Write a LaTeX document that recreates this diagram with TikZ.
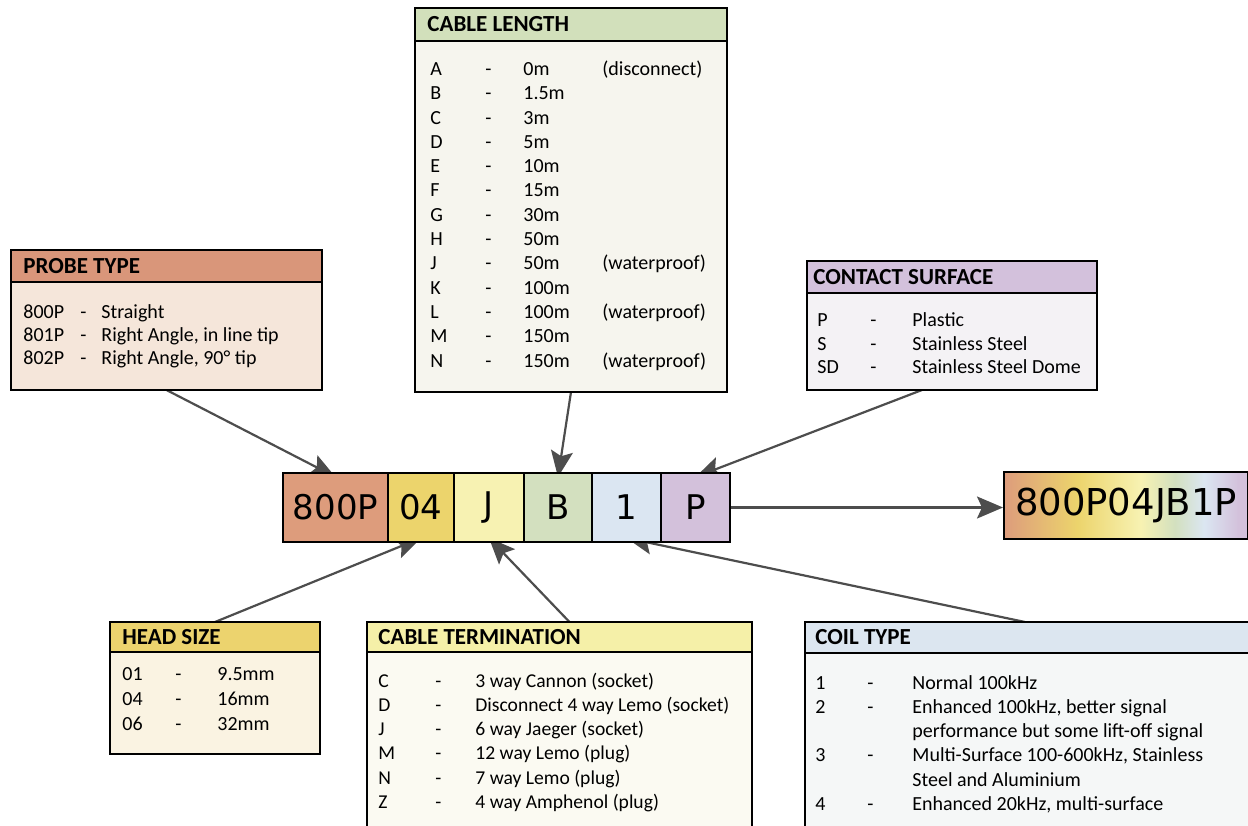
\documentclass[tikz,border=0pt]{standalone}
\usepackage{fontspec}
\setmainfont{Carlito}
\newfontfamily\codefont{DejaVu Sans}
\usetikzlibrary{positioning,arrows.meta,backgrounds}

\definecolor{probehead}{HTML}{D9967A}
\definecolor{probebody}{HTML}{F5E6DA}
\definecolor{lenhead}{HTML}{D2E0BB}
\definecolor{lenbody}{HTML}{F6F5EE}
\definecolor{surfhead}{HTML}{D3C1DC}
\definecolor{surfbody}{HTML}{F4F2F5}
\definecolor{sizehead}{HTML}{ECD36E}
\definecolor{sizebody}{HTML}{FAF3E2}
\definecolor{termhead}{HTML}{F5F0A8}
\definecolor{termbody}{HTML}{FBFAF2}
\definecolor{coilhead}{HTML}{DCE6F0}
\definecolor{coilbody}{HTML}{F5F7F7}
\definecolor{col800}{HTML}{DD9C7C}
\definecolor{col04}{HTML}{ECD46C}
\definecolor{colJ}{HTML}{F7F2B2}
\definecolor{colB}{HTML}{D3E0BF}
\definecolor{col1}{HTML}{DBE6F2}
\definecolor{colP}{HTML}{D3C1DB}
\definecolor{pointer}{HTML}{4D4D4D}

\pgfdeclarehorizontalshading{codebar}{100bp}{color(0bp)=(col800); color(25bp)=(col800); color(40bp)=(col04); color(53bp)=(colJ); color(60bp)=(colB); color(66bp)=(col1); color(73bp)=(colP); color(100bp)=(colP)}

\tikzset{
    panel/.style={draw, line width=1.2pt, anchor=north west, inner sep=0pt, outer sep=0pt},
    head/.style={panel, minimum height=15.5pt},
    title/.style={font=\bfseries\fontsize{11.5}{13}\selectfont, inner sep=0pt},
    entries/.style={anchor=north west, inner sep=0pt, font=\fontsize{10}{12}\selectfont},
    cell/.style={draw, line width=1.1pt, minimum height=34.5pt, inner sep=0pt, outer sep=0pt, font=\codefont\fontsize{17}{17}\selectfont},
    pointer/.style={draw=pointer, line width=1.1pt, -{Stealth[length=13pt,width=11pt,inset=2.5pt]}}
}

\begin{document}
\begin{tikzpicture}[x=0.5pt, y=-0.5pt]
    \useasboundingbox (0,0) rectangle (1248,825);

    % probe type
    \node (probe) [panel, fill=probebody, minimum width=155.5pt, minimum height=70pt] at (11,250) {};
    \node (probehead) [head, fill=probehead, minimum width=155.5pt, minimum height=16pt] at (11,250) {};
    \node (probetitle) [title, right=6pt of probehead.west] {PROBE TYPE};
    \node (probelist) [entries, font=\fontsize{10}{11.5}\selectfont] at (23,302) {%
        \begin{tabular}{@{}p{28.5pt}@{}p{10.5pt}@{}l@{}}
        800P & - & Straight\\
        801P & - & Right Angle, in line tip\\
        802P & - & Right Angle, 90° tip
        \end{tabular}};

    % cable length
    \node (len) [panel, fill=lenbody, minimum width=156pt, minimum height=192pt] at (415,8) {};
    \node (lenhead) [head, fill=lenhead, minimum width=156pt, minimum height=16.5pt] at (415,8) {};
    \node (lentitle) [title, right=6pt of lenhead.west] {CABLE LENGTH};
    \node (lenlist) [entries, font=\fontsize{10}{12.15}\selectfont] at (430,58) {%
        \begin{tabular}{@{}p{27.5pt}@{}p{19pt}@{}p{39.5pt}@{}l@{}}
        A & - & 0m & (disconnect)\\
        B & - & 1.5m & \\
        C & - & 3m & \\
        D & - & 5m & \\
        E & - & 10m & \\
        F & - & 15m & \\
        G & - & 30m & \\
        H & - & 50m & \\
        J & - & 50m & (waterproof)\\
        K & - & 100m & \\
        L & - & 100m & (waterproof)\\
        M & - & 150m & \\
        N & - & 150m & (waterproof)
        \end{tabular}};

    % contact surface
    \node (surf) [panel, fill=surfbody, minimum width=145pt, minimum height=64.5pt] at (807,261) {};
    \node (surfhead) [head, fill=surfhead, minimum width=145pt, minimum height=16pt] at (807,261) {};
    \node (surftitle) [title, right=3pt of surfhead.west] {CONTACT SURFACE};
    \node (surflist) [entries, font=\fontsize{10}{11.75}\selectfont] at (817,310) {%
        \begin{tabular}{@{}p{26.5pt}@{}p{21pt}@{}l@{}}
        P & - & Plastic\\
        S & - & Stainless Steel\\
        SD & - & Stainless Steel Dome
        \end{tabular}};

    % part number
    \node (c800) [cell, fill=col800, minimum width=52.5pt, anchor=north west] at (283,473) {800P};
    \node (c04) [cell, fill=col04, minimum width=33pt, right=0pt of c800] {04};
    \node (cJ) [cell, fill=colJ, minimum width=35pt, right=0pt of c04] {J};
    \node (cB) [cell, fill=colB, minimum width=34pt, right=0pt of cJ] {B};
    \node (c1) [cell, fill=col1, minimum width=34.5pt, right=0pt of cB] {1};
    \node (cP) [cell, fill=colP, minimum width=34.5pt, right=0pt of c1] {P};

    \node (code) [draw, line width=1.1pt, shade, shading=codebar, anchor=north west, minimum width=122pt, minimum height=33.5pt, inner sep=0pt, font=\codefont\fontsize{18.5}{18.5}\selectfont] at (1003,471) {800P04JB1P};

    % head size
    \node (size) [panel, fill=sizebody, minimum width=105pt, minimum height=66pt] at (110,622) {};
    \node (sizehead) [head, fill=sizehead, minimum width=105pt, minimum height=15pt] at (110,622) {};
    \node (sizetitle) [title, right=6pt of sizehead.west] {HEAD SIZE};
    \node (sizelist) [entries, font=\fontsize{10}{12.5}\selectfont] at (122,663) {%
        \begin{tabular}{@{}p{26.5pt}@{}p{21pt}@{}l@{}}
        01 & - & 9.5mm\\
        04 & - & 16mm\\
        06 & - & 32mm
        \end{tabular}};

    % cable termination
    \node (term) [panel, fill=termbody, minimum width=192.5pt, minimum height=125pt] at (367,622) {};
    \node (termhead) [head, fill=termhead, minimum width=192.5pt, minimum height=15pt] at (367,622) {};
    \node (termtitle) [title, right=5.5pt of termhead.west] {CABLE TERMINATION};
    \node (termlist) [entries, font=\fontsize{9.8}{12.1}\selectfont] at (378,670) {%
        \begin{tabular}{@{}p{28.5pt}@{}p{20pt}@{}l@{}}
        C & - & 3 way Cannon (socket)\\
        D & - & Disconnect 4 way Lemo (socket)\\
        J & - & 6 way Jaeger (socket)\\
        M & - & 12 way Lemo (plug)\\
        N & - & 7 way Lemo (plug)\\
        Z & - & 4 way Amphenol (plug)
        \end{tabular}};

    % coil type
    \node (coil) [panel, fill=coilbody, minimum width=230pt, minimum height=125pt] at (805,622) {};
    \node (coilhead) [head, fill=coilhead, minimum width=230pt, minimum height=15.5pt] at (805,622) {};
    \node (coiltitle) [title, right=5pt of coilhead.west] {COIL TYPE};
    \node (coillist) [entries, font=\fontsize{10}{12.1}\selectfont] at (815,672) {%
        \begin{tabular}{@{}p{26pt}@{}p{22.5pt}@{}l@{}}
        1 & - & Normal 100kHz\\
        2 & - & Enhanced 100kHz, better signal\\
          &   & performance but some lift-off signal\\
        3 & - & Multi-Surface 100-600kHz, Stainless\\
          &   & Steel and Aluminium\\
        4 & - & Enhanced 20kHz, multi-surface
        \end{tabular}};

    % pointers
    \begin{scope}[on background layer]
        \draw[pointer] (probe.south) -- ([yshift=-2pt]c800.north);
        \draw[pointer] (len.south) -- ([yshift=-2pt]cB.north);
        \draw[pointer] ([xshift=-15pt]surf.south) -- ([yshift=-2pt]cP.north);
        \draw[pointer] (cP.east) -- (cP.east -| code.west);
        \draw[pointer] (size.north) -- ([yshift=2pt]c04.south);
        \draw[pointer] ([xshift=5pt]term.north) -- ([yshift=2pt]cJ.south);
        \draw[pointer] ([xshift=-5pt]coil.north) -- ([yshift=2pt]c1.south);
    \end{scope}
\end{tikzpicture}
\end{document}
